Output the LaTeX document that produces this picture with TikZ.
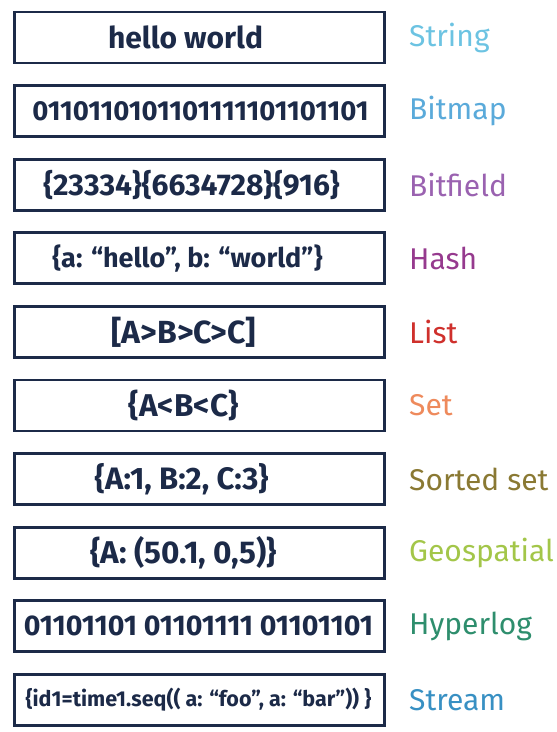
\documentclass[tikz,border=0pt]{standalone}
\usepackage{fontspec}
\setmainfont{Fira Sans}
\newcommand{\fsz}[1]{\fontsize{#1}{#1}\selectfont}
\begin{document}
\begin{tikzpicture}[x=1pt,y=1pt,
  cell/.style={draw=navy, line width=2.8pt, minimum width=370pt, minimum height=51pt,
    inner sep=0pt},
  content/.style={inner sep=0pt, text=navy, font=\fsz{#1}\bfseries},
  kind/.style={anchor=west, inner sep=0pt, font=\fsz{30}}]
\definecolor{navy}{HTML}{1C2A48}
\definecolor{cString}{HTML}{6CC3E2}
\definecolor{cBitmap}{HTML}{5AAADA}
\definecolor{cBitfield}{HTML}{9A62B0}
\definecolor{cHash}{HTML}{963A8E}
\definecolor{cList}{HTML}{CF302C}
\definecolor{cSet}{HTML}{EE8A5C}
\definecolor{cSorted}{HTML}{8A7933}
\definecolor{cGeo}{HTML}{A3C649}
\definecolor{cHyper}{HTML}{2E8E6D}
\definecolor{cStream}{HTML}{3890C3}
\useasboundingbox (0,0) rectangle (557,-732);
\def\rowy#1{-37.5-73.6*#1}
\foreach \i in {0,...,9} { \node[cell] (b\i) at (199.5,{\rowy{\i}}) {}; }
\node[content=30]   (t0) at ([xshift=-14pt]b0.center) {hello world};
\node[content=27.5] (t1) at ([xshift=1pt]b1.center) {0110110101101111101101101};
\node[content=30]   (t2) at ([xshift=-8pt]b2.center) {\{23334\}\{6634728\}\{916\}};
\node[content=27]   (t3) at ([xshift=-12pt]b3.center) {\{a: “hello”, b: “world”\}};
\node[content=32]   (t4) at ([xshift=-16pt]b4.center) {[A>B>C>C]};
\node[content=31.5] (t5) at ([xshift=-16pt]b5.center) {\{A<B<C\}};
\node[content=31]   (t6) at ([xshift=-18pt]b6.center) {\{A:1, B:2, C:3\}};
\node[content=31.5] (t7) at ([xshift=-16pt]b7.center) {\{A: (50.1, 0,5)\}};
\node[content=28.5] (t8) at ([xshift=-1pt]b8.center) {01101101 01101111 01101101};
\node[content=21.5] (t9) at ([xshift=-1pt]b9.center) {\{id1=time1.seq(( a: “foo”, a: “bar”)) \}};
\node[kind, text=cString]  (l0) at (409,{\rowy{0}}) {String};
\node[kind, text=cBitmap]  (l1) at (409,{\rowy{1}}) {Bitmap};
\node[kind, text=cBitfield](l2) at (409,{\rowy{2}}) {Bitfield};
\node[kind, text=cHash]    (l3) at (409,{\rowy{3}}) {Hash};
\node[kind, text=cList]    (l4) at (409,{\rowy{4}}) {List};
\node[kind, text=cSet]     (l5) at (409,{\rowy{5}}) {Set};
\node[kind, text=cSorted]  (l6) at (409,{\rowy{6}}) {Sorted set};
\node[kind, text=cGeo]     (l7) at (409,{\rowy{7}}) {Geospatial};
\node[kind, text=cHyper]   (l8) at (409,{\rowy{8}}) {Hyperlog};
\node[kind, text=cStream]  (l9) at (409,{\rowy{9}}) {Stream};
\end{tikzpicture}
\end{document}
